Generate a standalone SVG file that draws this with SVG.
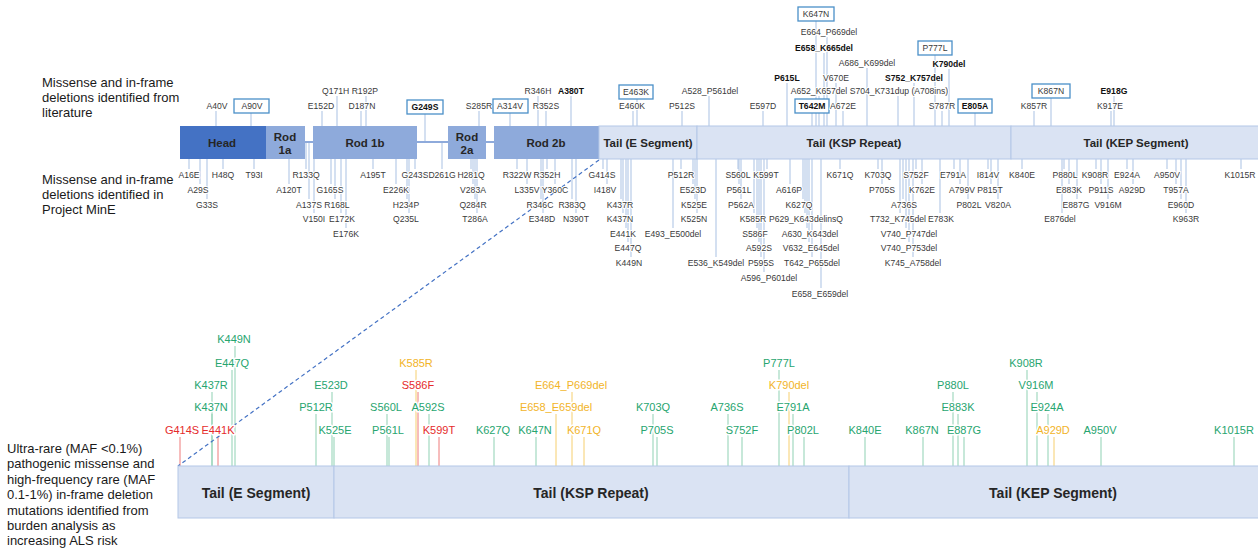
<svg xmlns="http://www.w3.org/2000/svg" width="1258" height="551" viewBox="0 0 1258 551">
<style>
text{font-family:"Liberation Sans",Arial,sans-serif}
.lab{font-size:13px;fill:#1a1a1a}
.m{font-size:8.6px;fill:#3a3a3a;text-anchor:middle;dominant-baseline:central;paint-order:stroke;stroke:#fff;stroke-width:2px;stroke-linejoin:round}
.mb{font-weight:bold;fill:#111}
.seg{font-size:11.5px;font-weight:bold;fill:#262626;text-anchor:middle;dominant-baseline:central}
.seg2{font-size:14px;font-weight:bold;fill:#262626;text-anchor:middle;dominant-baseline:central}
.tk line{stroke:#a9c1e3;stroke-width:1}
.bx{fill:#fff;stroke:#4a90c8;stroke-width:1.3}
.u{font-size:11px;text-anchor:middle;dominant-baseline:central;paint-order:stroke;stroke:#fff;stroke-width:3px;stroke-linejoin:round}
.ug{fill:#27a56f}.ur{fill:#e52b2b}.uo{fill:#f2b428}
.lg{stroke:#8fd1b3;stroke-width:1}.lr{stroke:#ee7b7b;stroke-width:1}.lo{stroke:#f6cf6e;stroke-width:1}
.tail{fill:#dae3f3;stroke:#b4c7e7;stroke-width:1}
.rod{fill:#8eaadb}
</style>

<g id="side-labels">
<text class="lab" x="42" y="87">Missense and in-frame</text>
<text class="lab" x="42" y="102">deletions identified from</text>
<text class="lab" x="42" y="117">literature</text>
<text class="lab" x="42" y="184">Missense and in-frame</text>
<text class="lab" x="42" y="199">deletions identified in</text>
<text class="lab" x="42" y="214">Project MinE</text>
<text class="lab" x="7" y="453">Ultra-rare (MAF &lt;0.1%)</text>
<text class="lab" x="7" y="468">pathogenic missense and</text>
<text class="lab" x="7" y="484">high-frequency rare (MAF</text>
<text class="lab" x="7" y="499">0.1-1%) in-frame deletion</text>
<text class="lab" x="7" y="515">mutations identified from</text>
<text class="lab" x="7" y="530">burden analysis as</text>
<text class="lab" x="7" y="545">increasing ALS risk</text>
</g>

<g id="connectors">
<g class="tk" id="lit-ticks">
<line x1="216" y1="111" x2="216" y2="126"/><line x1="251" y1="113" x2="251" y2="126"/>
<line x1="322" y1="111" x2="322" y2="126"/><line x1="337" y1="96" x2="337" y2="126"/>
<line x1="361" y1="111" x2="361" y2="126"/><line x1="366" y1="96" x2="366" y2="126"/>
<line x1="425" y1="113" x2="425" y2="142"/><line x1="479" y1="111" x2="479" y2="126"/>
<line x1="510" y1="113" x2="510" y2="126"/><line x1="538" y1="96" x2="538" y2="126"/>
<line x1="546" y1="111" x2="546" y2="126"/><line x1="571" y1="96" x2="571" y2="126"/>
<line x1="637" y1="98" x2="637" y2="126"/><line x1="633" y1="111" x2="633" y2="126"/>
<line x1="682" y1="111" x2="682" y2="126"/><line x1="709" y1="96" x2="709" y2="126"/>
<line x1="763" y1="111" x2="763" y2="126"/><line x1="787" y1="83" x2="787" y2="126"/>
<line x1="816" y1="21" x2="816" y2="126"/><line x1="827" y1="37" x2="827" y2="126"/>
<line x1="824" y1="53" x2="824" y2="126"/><line x1="836" y1="83" x2="836" y2="126"/>
<line x1="819" y1="96" x2="819" y2="126"/><line x1="812" y1="113" x2="812" y2="126"/>
<line x1="843" y1="111" x2="843" y2="126"/><line x1="867" y1="68" x2="867" y2="126"/>
<line x1="898" y1="96" x2="898" y2="126"/><line x1="935" y1="55" x2="935" y2="126"/>
<line x1="949" y1="69" x2="949" y2="126"/><line x1="914" y1="83" x2="914" y2="126"/>
<line x1="942" y1="111" x2="942" y2="126"/><line x1="975" y1="113" x2="975" y2="126"/>
<line x1="1051" y1="98" x2="1051" y2="126"/><line x1="1034" y1="111" x2="1034" y2="126"/>
<line x1="1114" y1="96" x2="1114" y2="126"/><line x1="1111" y1="111" x2="1111" y2="126"/>
</g>
<g class="tk" id="mine-ticks">
<line x1="189" y1="159" x2="189" y2="169"/><line x1="200" y1="159" x2="200" y2="184"/>
<line x1="207" y1="159" x2="207" y2="199"/><line x1="223" y1="159" x2="223" y2="169"/>
<line x1="254" y1="159" x2="254" y2="169"/><line x1="289" y1="159" x2="289" y2="184"/>
<line x1="306" y1="143" x2="306" y2="169"/><line x1="309" y1="143" x2="309" y2="199"/>
<line x1="314" y1="143" x2="314" y2="213"/><line x1="331" y1="159" x2="331" y2="184"/>
<line x1="335" y1="159" x2="335" y2="199"/><line x1="341" y1="159" x2="341" y2="213"/>
<line x1="346" y1="159" x2="346" y2="228"/><line x1="373" y1="159" x2="373" y2="169"/>
<line x1="396" y1="159" x2="396" y2="184"/><line x1="407" y1="159" x2="407" y2="199"/>
<line x1="409" y1="159" x2="409" y2="213"/><line x1="415" y1="159" x2="415" y2="169"/>
<line x1="442" y1="143" x2="442" y2="169"/><line x1="471" y1="159" x2="471" y2="169"/>
<line x1="473" y1="159" x2="473" y2="184"/><line x1="475" y1="159" x2="475" y2="199"/>
<line x1="477" y1="159" x2="477" y2="213"/><line x1="517" y1="159" x2="517" y2="169"/>
<line x1="527" y1="159" x2="527" y2="184"/><line x1="541" y1="159" x2="541" y2="199"/>
<line x1="543" y1="159" x2="543" y2="213"/><line x1="547" y1="159" x2="547" y2="169"/>
<line x1="555" y1="159" x2="555" y2="184"/><line x1="572" y1="159" x2="572" y2="199"/>
<line x1="576" y1="159" x2="576" y2="213"/><line x1="603" y1="159" x2="603" y2="169"/>
<line x1="607" y1="159" x2="607" y2="184"/><line x1="621" y1="159" x2="621" y2="199"/>
<line x1="623" y1="159" x2="623" y2="213"/><line x1="626" y1="159" x2="626" y2="228"/>
<line x1="628" y1="159" x2="628" y2="242"/><line x1="631" y1="159" x2="631" y2="257"/>
<line x1="673" y1="159" x2="673" y2="228"/><line x1="681" y1="159" x2="681" y2="169"/>
<line x1="693" y1="159" x2="693" y2="184"/><line x1="695" y1="159" x2="695" y2="199"/>
<line x1="697" y1="159" x2="697" y2="213"/><line x1="716" y1="159" x2="716" y2="257"/>
<line x1="738" y1="159" x2="738" y2="169"/><line x1="739" y1="159" x2="739" y2="184"/>
<line x1="741" y1="159" x2="741" y2="199"/><line x1="754" y1="159" x2="754" y2="213"/>
<line x1="757" y1="159" x2="757" y2="228"/><line x1="759" y1="159" x2="759" y2="242"/>
<line x1="761" y1="159" x2="761" y2="257"/><line x1="764" y1="159" x2="764" y2="272"/>
<line x1="767" y1="159" x2="767" y2="169"/><line x1="790" y1="159" x2="790" y2="184"/>
<line x1="803" y1="159" x2="803" y2="199"/><line x1="805" y1="159" x2="805" y2="213"/>
<line x1="807" y1="159" x2="807" y2="228"/><line x1="809" y1="159" x2="809" y2="242"/>
<line x1="812" y1="159" x2="812" y2="257"/><line x1="821" y1="159" x2="821" y2="288"/>
<line x1="840" y1="159" x2="840" y2="169"/><line x1="878" y1="159" x2="878" y2="169"/>
<line x1="882" y1="159" x2="882" y2="184"/><line x1="900" y1="159" x2="900" y2="213"/>
<line x1="903" y1="159" x2="903" y2="199"/><line x1="906" y1="159" x2="906" y2="228"/>
<line x1="909" y1="159" x2="909" y2="242"/><line x1="913" y1="159" x2="913" y2="257"/>
<line x1="916" y1="159" x2="916" y2="169"/><line x1="922" y1="159" x2="922" y2="184"/>
<line x1="940" y1="159" x2="940" y2="213"/><line x1="954" y1="159" x2="954" y2="169"/>
<line x1="960" y1="159" x2="960" y2="184"/><line x1="968" y1="159" x2="968" y2="199"/>
<line x1="988" y1="159" x2="988" y2="169"/><line x1="991" y1="159" x2="991" y2="184"/>
<line x1="998" y1="159" x2="998" y2="199"/><line x1="1022" y1="159" x2="1022" y2="169"/>
<line x1="1062" y1="159" x2="1062" y2="213"/><line x1="1064" y1="159" x2="1064" y2="169"/>
<line x1="1069" y1="159" x2="1069" y2="184"/><line x1="1077" y1="159" x2="1077" y2="199"/>
<line x1="1096" y1="159" x2="1096" y2="169"/><line x1="1101" y1="159" x2="1101" y2="184"/>
<line x1="1108" y1="159" x2="1108" y2="199"/><line x1="1127" y1="159" x2="1127" y2="169"/>
<line x1="1133" y1="159" x2="1133" y2="184"/><line x1="1167" y1="159" x2="1167" y2="169"/>
<line x1="1176" y1="159" x2="1176" y2="184"/><line x1="1181" y1="159" x2="1181" y2="199"/>
<line x1="1186" y1="159" x2="1186" y2="213"/><line x1="1241" y1="159" x2="1241" y2="169"/>
</g>
<g id="risk-ticks">
<line class="lr" x1="180" y1="437" x2="180" y2="466"/><line class="lr" x1="218" y1="437" x2="218" y2="466"/>
<line class="lg" x1="212" y1="392" x2="212" y2="466"/><line class="lg" x1="212" y1="414" x2="212" y2="466"/>
<line class="lg" x1="232" y1="370" x2="232" y2="466"/><line class="lg" x1="235" y1="346" x2="235" y2="466"/>
<line class="lg" x1="316" y1="414" x2="316" y2="466"/><line class="lg" x1="332" y1="392" x2="332" y2="466"/>
<line class="lg" x1="334" y1="437" x2="334" y2="466"/><line class="lg" x1="387" y1="414" x2="387" y2="466"/>
<line class="lg" x1="389" y1="437" x2="389" y2="466"/><line class="lo" x1="416" y1="370" x2="416" y2="466"/>
<line class="lr" x1="418" y1="392" x2="418" y2="466"/><line class="lg" x1="429" y1="414" x2="429" y2="466"/>
<line class="lr" x1="439" y1="437" x2="439" y2="466"/><line class="lg" x1="494" y1="437" x2="494" y2="466"/>
<line class="lg" x1="536" y1="437" x2="536" y2="466"/><line class="lo" x1="556" y1="414" x2="556" y2="466"/>
<line class="lo" x1="572" y1="392" x2="572" y2="466"/><line class="lo" x1="584" y1="437" x2="584" y2="466"/>
<line class="lg" x1="653" y1="414" x2="653" y2="466"/><line class="lg" x1="657" y1="437" x2="657" y2="466"/>
<line class="lg" x1="728" y1="414" x2="728" y2="466"/><line class="lg" x1="742" y1="437" x2="742" y2="466"/>
<line class="lg" x1="779" y1="370" x2="779" y2="466"/><line class="lo" x1="789" y1="392" x2="789" y2="466"/>
<line class="lg" x1="793" y1="414" x2="793" y2="466"/><line class="lg" x1="804" y1="437" x2="804" y2="466"/>
<line class="lg" x1="865" y1="437" x2="865" y2="466"/><line class="lg" x1="923" y1="437" x2="923" y2="466"/>
<line class="lg" x1="953" y1="392" x2="953" y2="466"/><line class="lg" x1="958" y1="414" x2="958" y2="466"/>
<line class="lg" x1="964" y1="437" x2="964" y2="466"/><line class="lg" x1="1027" y1="370" x2="1027" y2="466"/>
<line class="lg" x1="1037" y1="392" x2="1037" y2="466"/><line class="lg" x1="1048" y1="414" x2="1048" y2="466"/>
<line class="lo" x1="1054" y1="437" x2="1054" y2="466"/><line class="lg" x1="1101" y1="437" x2="1101" y2="466"/>
<line class="lg" x1="1234" y1="437" x2="1234" y2="466"/>
</g>
<line id="zoom-link" x1="599" y1="160" x2="178" y2="466" stroke="#4472c4" stroke-width="1.2" stroke-dasharray="4 3"/>
</g>

<g id="protein-bar">
<line x1="305" y1="142" x2="313" y2="142" stroke="#8eaadb" stroke-width="2"/>
<line x1="417" y1="142" x2="448" y2="142" stroke="#8eaadb" stroke-width="2"/>
<line x1="486" y1="142" x2="494" y2="142" stroke="#8eaadb" stroke-width="2"/>
<g id="head"><rect x="180" y="126" width="86" height="33" fill="#4472c4"/><text class="seg" x="222" y="143">Head</text></g>
<g id="rod1a"><rect class="rod" x="266" y="126" width="39" height="33"/><text class="seg" x="285" y="137">Rod</text><text class="seg" x="285" y="150">1a</text></g>
<g id="rod1b"><rect class="rod" x="313" y="126" width="104" height="33"/><text class="seg" x="365" y="143">Rod 1b</text></g>
<g id="rod2a"><rect class="rod" x="448" y="126" width="38" height="33"/><text class="seg" x="467" y="137">Rod</text><text class="seg" x="467" y="150">2a</text></g>
<g id="rod2b"><rect class="rod" x="494" y="126" width="105" height="33"/><text class="seg" x="546" y="143">Rod 2b</text></g>
<g id="tailE"><rect class="tail" x="599" y="126" width="98" height="33"/><text class="seg" x="648" y="143">Tail (E Segment)</text></g>
<g id="tailKSP"><rect class="tail" x="697" y="126" width="314" height="33"/><text class="seg" x="854" y="143">Tail (KSP Repeat)</text></g>
<g id="tailKEP"><rect class="tail" x="1011" y="126" width="250" height="33"/><text class="seg" x="1136" y="143">Tail (KEP Segment)</text></g>
</g>

<g id="literature-labels">
<text class="m" x="217" y="106">A40V</text>
<rect class="bx" x="234" y="99" width="35" height="14"/><text class="m" x="252" y="106">A90V</text>
<text class="m" x="321" y="106">E152D</text>
<text class="m" x="350" y="91">Q171H R192P</text>
<text class="m" x="362" y="106">D187N</text>
<rect class="bx" x="407" y="100" width="36" height="14"/><text class="m mb" x="425" y="107">G249S</text>
<text class="m" x="479" y="106">S285R</text>
<rect class="bx" x="493" y="99" width="35" height="14"/><text class="m" x="510" y="106">A314V</text>
<text class="m" x="538" y="91">R346H</text>
<text class="m" x="546" y="106">R352S</text>
<text class="m mb" x="571" y="91">A380T</text>
<rect class="bx" x="619" y="85" width="34" height="14"/><text class="m" x="636" y="92">E463K</text>
<text class="m" x="632" y="106">E460K</text>
<text class="m" x="682" y="106">P512S</text>
<text class="m" x="710" y="91">A528_P561del</text>
<text class="m" x="763" y="106">E597D</text>
<text class="m mb" x="787" y="78">P615L</text>
<rect class="bx" x="798" y="7" width="36" height="14"/><text class="m" x="816" y="14">K647N</text>
<text class="m" x="829" y="32">E664_P669del</text>
<text class="m mb" x="824" y="48">E658_K665del</text>
<text class="m" x="836" y="78">V670E</text>
<text class="m" x="819" y="91">A652_K657del</text>
<rect class="bx" x="795" y="99" width="34" height="14"/><text class="m mb" x="812" y="106">T642M</text>
<text class="m" x="843" y="106">A672E</text>
<text class="m" x="867" y="63">A686_K699del</text>
<text class="m" x="899" y="91">S704_K731dup (A708ins)</text>
<rect class="bx" x="918" y="41" width="34" height="14"/><text class="m" x="935" y="48">P777L</text>
<text class="m mb" x="949" y="64">K790del</text>
<text class="m mb" x="914" y="78">S752_K757del</text>
<text class="m" x="942" y="106">S787R</text>
<rect class="bx" x="958" y="99" width="34" height="14"/><text class="m mb" x="975" y="106">E805A</text>
<rect class="bx" x="1032" y="84" width="38" height="14"/><text class="m" x="1051" y="91">K867N</text>
<text class="m" x="1034" y="106">K857R</text>
<text class="m mb" x="1114" y="91">E918G</text>
<text class="m" x="1110" y="106">K917E</text>
</g>

<g id="mine-labels">
<text class="m" x="189" y="175">A16E</text><text class="m" x="198" y="190">A29S</text><text class="m" x="207" y="205">G33S</text>
<text class="m" x="223" y="175">H48Q</text><text class="m" x="254" y="175">T93I</text><text class="m" x="289" y="190">A120T</text>
<text class="m" x="306" y="175">R133Q</text><text class="m" x="309" y="205">A137S</text><text class="m" x="314" y="219">V150I</text>
<text class="m" x="330" y="190">G165S</text><text class="m" x="337" y="205">R168L</text><text class="m" x="342" y="219">E172K</text>
<text class="m" x="346" y="234">E176K</text><text class="m" x="373" y="175">A195T</text><text class="m" x="396" y="190">E226K</text>
<text class="m" x="406" y="205">H234P</text><text class="m" x="406" y="219">Q235L</text><text class="m" x="415" y="175">G243S</text>
<text class="m" x="442" y="175">D261G</text><text class="m" x="471" y="175">H281Q</text><text class="m" x="473" y="190">V283A</text>
<text class="m" x="473" y="205">Q284R</text><text class="m" x="475" y="219">T286A</text>
<text class="m" x="517" y="175">R322W</text><text class="m" x="547" y="175">R352H</text><text class="m" x="527" y="190">L335V</text>
<text class="m" x="555" y="190">Y360C</text><text class="m" x="540" y="205">R346C</text><text class="m" x="572" y="205">R383Q</text>
<text class="m" x="542" y="219">E348D</text><text class="m" x="576" y="219">N390T</text>
<text class="m" x="602" y="175">G414S</text><text class="m" x="605" y="190">I418V</text><text class="m" x="620" y="205">K437R</text>
<text class="m" x="620" y="219">K437N</text><text class="m" x="623" y="234">E441K</text><text class="m" x="628" y="248">E447Q</text>
<text class="m" x="629" y="263">K449N</text>
<text class="m" x="681" y="175">P512R</text><text class="m" x="693" y="190">E523D</text><text class="m" x="694" y="205">K525E</text>
<text class="m" x="694" y="219">K525N</text><text class="m" x="673" y="234">E493_E500del</text><text class="m" x="716" y="263">E536_K549del</text>
<text class="m" x="738" y="175">S560L</text><text class="m" x="766" y="175">K599T</text><text class="m" x="739" y="190">P561L</text>
<text class="m" x="741" y="205">P562A</text><text class="m" x="753" y="219">K585R</text><text class="m" x="755" y="234">S586F</text>
<text class="m" x="759" y="248">A592S</text><text class="m" x="761" y="263">P595S</text><text class="m" x="769" y="278">A596_P601del</text>
<text class="m" x="789" y="190">A616P</text><text class="m" x="799" y="205">K627Q</text><text class="m" x="806" y="219">P629_K643delinsQ</text>
<text class="m" x="810" y="234">A630_K643del</text><text class="m" x="811" y="248">V632_E645del</text><text class="m" x="812" y="263">T642_P655del</text>
<text class="m" x="820" y="294">E658_E659del</text><text class="m" x="840" y="175">K671Q</text>
<text class="m" x="878" y="175">K703Q</text><text class="m" x="882" y="190">P705S</text><text class="m" x="904" y="205">A736S</text>
<text class="m" x="916" y="175">S752F</text><text class="m" x="922" y="190">K762E</text><text class="m" x="898" y="219">T732_K745del</text>
<text class="m" x="941" y="219">E783K</text><text class="m" x="909" y="234">V740_P747del</text><text class="m" x="909" y="248">V740_P753del</text>
<text class="m" x="913" y="263">K745_A758del</text>
<text class="m" x="953" y="175">E791A</text><text class="m" x="962" y="190">A799V</text><text class="m" x="969" y="205">P802L</text>
<text class="m" x="988" y="175">I814V</text><text class="m" x="990" y="190">P815T</text><text class="m" x="998" y="205">V820A</text>
<text class="m" x="1022" y="175">K840E</text>
<text class="m" x="1065" y="175">P880L</text><text class="m" x="1069" y="190">E883K</text><text class="m" x="1076" y="205">E887G</text>
<text class="m" x="1060" y="219">E876del</text><text class="m" x="1095" y="175">K908R</text><text class="m" x="1101" y="190">P911S</text>
<text class="m" x="1108" y="205">V916M</text><text class="m" x="1127" y="175">E924A</text><text class="m" x="1132" y="190">A929D</text>
<text class="m" x="1167" y="175">A950V</text><text class="m" x="1176" y="190">T957A</text><text class="m" x="1181" y="205">E960D</text>
<text class="m" x="1186" y="219">K963R</text><text class="m" x="1240" y="175">K1015R</text>
</g>

<g id="risk-labels">
<text class="u ur" x="182" y="430">G414S</text><text class="u ur" x="218" y="430">E441K</text>
<text class="u ug" x="211" y="407">K437N</text><text class="u ug" x="211" y="385">K437R</text>
<text class="u ug" x="232" y="363">E447Q</text><text class="u ug" x="234" y="339">K449N</text>
<text class="u ug" x="316" y="407">P512R</text><text class="u ug" x="331" y="385">E523D</text><text class="u ug" x="335" y="430">K525E</text>
<text class="u ug" x="386" y="407">S560L</text><text class="u ug" x="388" y="430">P561L</text>
<text class="u uo" x="416" y="363">K585R</text><text class="u ur" x="418" y="385">S586F</text>
<text class="u ug" x="428" y="407">A592S</text><text class="u ur" x="439" y="430">K599T</text>
<text class="u ug" x="493" y="430">K627Q</text><text class="u ug" x="535" y="430">K647N</text>
<text class="u uo" x="556" y="407">E658_E659del</text><text class="u uo" x="571" y="385">E664_P669del</text>
<text class="u uo" x="584" y="430">K671Q</text>
<text class="u ug" x="653" y="407">K703Q</text><text class="u ug" x="657" y="430">P705S</text>
<text class="u ug" x="727" y="407">A736S</text><text class="u ug" x="742" y="430">S752F</text>
<text class="u ug" x="779" y="363">P777L</text><text class="u uo" x="789" y="385">K790del</text>
<text class="u ug" x="793" y="407">E791A</text><text class="u ug" x="803" y="430">P802L</text>
<text class="u ug" x="865" y="430">K840E</text><text class="u ug" x="922" y="430">K867N</text>
<text class="u ug" x="953" y="385">P880L</text><text class="u ug" x="958" y="407">E883K</text><text class="u ug" x="964" y="430">E887G</text>
<text class="u ug" x="1026" y="363">K908R</text><text class="u ug" x="1036" y="385">V916M</text>
<text class="u ug" x="1047" y="407">E924A</text><text class="u uo" x="1053" y="430">A929D</text>
<text class="u ug" x="1100" y="430">A950V</text><text class="u ug" x="1234" y="430">K1015R</text>
</g>

<g id="tail-zoom-bar">
<g id="ztailE"><rect class="tail" x="178" y="466" width="156" height="52"/><text class="seg2" x="256" y="493">Tail (E Segment)</text></g>
<g id="ztailKSP"><rect class="tail" x="334" y="466" width="515" height="52"/><text class="seg2" x="591" y="493">Tail (KSP Repeat)</text></g>
<g id="ztailKEP"><rect class="tail" x="849" y="466" width="412" height="52"/><text class="seg2" x="1053" y="493">Tail (KEP Segment)</text></g>
</g>
</svg>
